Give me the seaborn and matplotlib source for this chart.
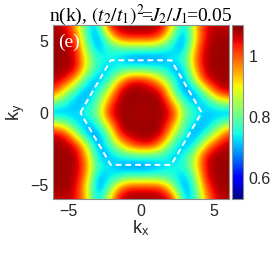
import numpy as np
import matplotlib
matplotlib.use("Agg")
import matplotlib.pyplot as plt
import seaborn as sns

# momentum grid (columns = kx, rows = ky from top to bottom)
kx = [-6.0, -5.25, -4.5, -3.75, -3.0, -2.25, -1.5, -0.75, 0.0,
      0.75, 1.5, 2.25, 3.0, 3.75, 4.5, 5.25, 6.0]
ky = [6.0, 5.25, 4.5, 3.75, 3.0, 2.25, 1.5, 0.75, 0.0,
      -0.75, -1.5, -2.25, -3.0, -3.75, -4.5, -5.25, -6.0]

# n(k), one row per ky value
n_k = [
    [1.07, 1.06, 0.95, 0.75, 0.70, 1.04, 1.08, 1.085, 1.085, 1.085, 1.07, 0.88, 0.69, 0.93, 1.05, 1.07, 1.06],
    [1.085, 1.08, 1.00, 0.77, 0.665, 0.85, 1.03, 1.05, 1.05, 1.05, 0.98, 0.78, 0.665, 0.90, 1.06, 1.085, 1.085],
    [1.085, 1.085, 1.05, 0.82, 0.69, 0.75, 0.78, 0.80, 0.79, 0.80, 0.76, 0.715, 0.69, 0.95, 1.075, 1.085, 1.085],
    [1.085, 1.085, 1.06, 0.88, 0.75, 0.75, 0.715, 0.675, 0.665, 0.665, 0.69, 0.745, 0.76, 0.98, 1.08, 1.085, 1.085],
    [1.085, 1.085, 1.06, 0.87, 0.75, 0.70, 0.76, 0.77, 0.78, 0.77, 0.75, 0.69, 0.715, 0.95, 1.08, 1.085, 1.085],
    [1.07, 1.05, 0.92, 0.75, 0.675, 0.76, 0.92, 1.05, 1.05, 1.00, 0.88, 0.76, 0.665, 0.87, 1.05, 1.08, 1.085],
    [1.03, 0.88, 0.76, 0.675, 0.75, 0.86, 1.06, 1.09, 1.085, 1.08, 1.04, 0.80, 0.675, 0.69, 0.86, 1.04, 1.07],
    [0.83, 0.76, 0.69, 0.715, 0.78, 0.97, 1.08, 1.09, 1.08, 1.09, 1.08, 0.93, 0.76, 0.70, 0.715, 0.82, 0.88],
    [0.675, 0.70, 0.72, 0.755, 0.82, 1.04, 1.085, 1.08, 1.075, 1.08, 1.085, 1.04, 0.82, 0.755, 0.72, 0.70, 0.675],
    [0.88, 0.82, 0.715, 0.70, 0.76, 0.93, 1.08, 1.09, 1.08, 1.09, 1.08, 0.97, 0.78, 0.715, 0.69, 0.76, 0.83],
    [1.07, 1.04, 0.86, 0.69, 0.675, 0.80, 1.04, 1.08, 1.085, 1.09, 1.06, 0.86, 0.75, 0.675, 0.76, 0.88, 1.03],
    [1.085, 1.08, 1.05, 0.87, 0.665, 0.76, 0.88, 1.00, 1.05, 1.05, 0.92, 0.76, 0.675, 0.75, 0.92, 1.05, 1.07],
    [1.085, 1.085, 1.08, 0.95, 0.715, 0.69, 0.75, 0.77, 0.78, 0.77, 0.76, 0.70, 0.75, 0.87, 1.06, 1.085, 1.085],
    [1.085, 1.085, 1.08, 0.98, 0.76, 0.745, 0.69, 0.665, 0.665, 0.675, 0.715, 0.75, 0.75, 0.88, 1.06, 1.085, 1.085],
    [1.085, 1.085, 1.075, 0.95, 0.69, 0.715, 0.76, 0.80, 0.79, 0.80, 0.78, 0.75, 0.69, 0.82, 1.05, 1.085, 1.085],
    [1.085, 1.085, 1.06, 0.90, 0.665, 0.78, 0.98, 1.05, 1.05, 1.05, 1.03, 0.85, 0.665, 0.77, 1.00, 1.08, 1.085],
    [1.06, 1.07, 1.05, 0.93, 0.69, 0.88, 1.07, 1.085, 1.085, 1.085, 1.08, 1.04, 0.70, 0.75, 0.95, 1.06, 1.07],
]

# first Brillouin zone (dashed hexagon)
bz_kx = [-4.19, -2.09, 2.09, 4.19, 2.09, -2.09, -4.19]
bz_ky = [0.0, 3.63, 3.63, 0.0, -3.63, -3.63, 0.0]

axis_ticks = [-5, 0, 5]
cbar_ticks = [0.6, 0.8, 1.0]
cbar_ticklabels = ["0.6", "0.8", "1"]
color_min, color_max = 0.53, 1.10
panel_label = "(e)"
title_text = r"n(k), $(t_2/t_1)^2\!$=$\!J_2/J_1\!$=0.05"

sns.set_theme(style="white")
plt.rcParams["font.family"] = ["Liberation Sans", "DejaVu Sans"]
plt.rcParams["mathtext.fontset"] = "stix"

W, H = 271, 258
fig = plt.figure(figsize=(W / 100, H / 100), dpi=100)
ax = fig.add_axes([53 / W, 59 / H, 176 / W, 174 / H])
cax = fig.add_axes([232 / W, 59 / H, 11 / W, 174 / H])

step = kx[1] - kx[0]
im = ax.imshow(np.array(n_k), cmap="jet", vmin=color_min, vmax=color_max,
               extent=[kx[0] - step / 2, kx[-1] + step / 2,
                       ky[-1] - step / 2, ky[0] + step / 2],
               origin="upper", interpolation="bicubic",
               interpolation_stage="data", aspect="auto")

sns.lineplot(x=bz_kx, y=bz_ky, sort=False, ax=ax, color="white",
             linewidth=1.4, estimator=None)
ax.lines[-1].set_dashes([3.0, 2.0])

ax.set_xlim(-6.08, 6.08)
ax.set_ylim(-6.0, 6.08)
ax.set_xticks(axis_ticks)
ax.set_yticks(axis_ticks)
ax.tick_params(length=0, labelsize=11.5, pad=3.5, colors="#262626")
for s in ax.spines.values():
    s.set_color("#8c8c8c")
    s.set_linewidth(0.8)

ax.set_xlabel(r"k$_\mathregular{x}$", fontsize=13, labelpad=0, color="#262626")
ax.set_ylabel(r"k$_\mathregular{y}$", fontsize=13, labelpad=2, color="#262626")

ax.text(-5.75, 4.85, panel_label, color="white", fontsize=14,
        family=["Liberation Serif", "DejaVu Serif"], ha="left", va="center")

ax.set_title(title_text, fontsize=14, family=["Liberation Serif", "DejaVu Serif"],
             pad=3, color="black")

cb = fig.colorbar(im, cax=cax, ticks=cbar_ticks)
cb.ax.set_yticklabels(cbar_ticklabels)
cb.ax.tick_params(direction="in", length=2, width=0.6, labelsize=11.5,
                  pad=4, colors="#262626")
cb.outline.set_edgecolor("#8c8c8c")
cb.outline.set_linewidth(0.8)

fig.savefig("out.png", dpi=100)
